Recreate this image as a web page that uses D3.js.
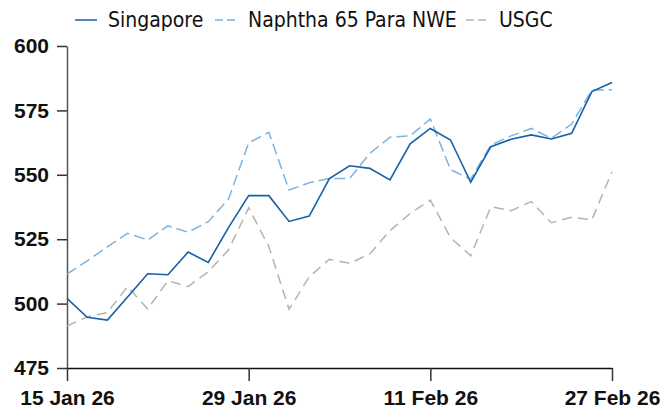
<!DOCTYPE html>
<html>
<head>
<meta charset="utf-8">
<script src="https://cdn.jsdelivr.net/npm/d3@7"></script>
<style>
  body { margin: 0; background: #fff; }
  svg { display: block; font-family: "DejaVu Sans Condensed", "DejaVu Sans", sans-serif; }
</style>
</head>
<body>
<div id="chart"></div>
<script>
// Trading days on the x axis (category positions)
var dates = ["15 Jan", "16 Jan", "20 Jan", "21 Jan", "22 Jan", "23 Jan", "26 Jan", "27 Jan", "28 Jan",
  "29 Jan", "30 Jan", "2 Feb", "3 Feb", "4 Feb", "5 Feb", "6 Feb", "9 Feb", "10 Feb", "11 Feb",
  "12 Feb", "13 Feb", "17 Feb", "18 Feb", "19 Feb", "20 Feb", "24 Feb", "26 Feb", "27 Feb"];

var tickDates = ["15 Jan", "29 Jan", "11 Feb", "27 Feb"];
var tickLabels = ["15 Jan 26", "29 Jan 26", "11 Feb 26", "27 Feb 26"];
var yTicks = [475, 500, 525, 550, 575, 600];

var singapore = [502, 494.7, 493.6, 502.6, 511.6, 511.2, 520, 516, 529.5, 541.9, 541.9, 531.9, 534, 548.5,
  553.5, 552.5, 548, 562, 568, 563.5, 547.1, 560.9, 563.8, 565.5, 563.9, 566.1, 582.3, 585.8];
var nwe = [511.4, 516.6, 522, 527.3, 524.7, 530.2, 527.7, 531.8, 540.6, 562.4, 566.5, 544.1, 546.9, 548.6,
  548.5, 558.3, 564.6, 565.1, 571.7, 552, 548.3, 561.6, 565.1, 568, 564.2, 569.7, 582.9, 583];
var usgc = [491.3, 494.9, 496.5, 506.6, 497.9, 508.9, 506.6, 512.4, 520.8, 537.2, 522.1, 497.8, 510.4, 517.2,
  515.6, 519.3, 528.3, 535, 540.2, 525.6, 518.6, 537.6, 536.1, 539.6, 531.4, 533.5, 532.5, 551.2];

var seriesNames = ["Singapore", "Naphtha 65 Para NWE", "USGC"];

var width = 662, height = 408;
var margin = { top: 46, right: 50, bottom: 40, left: 67 };

var series = [
  { name: seriesNames[0], values: singapore, color: "#1660a8", dash: null, width: 1.6 },
  { name: seriesNames[1], values: nwe, color: "#7cb3e0", dash: "11,5", width: 1.5 },
  { name: seriesNames[2], values: usgc, color: "#b3b3b3", dash: "10,6", width: 1.5 }
];

var svg = d3.select("#chart")
  .append("svg")
  .attr("width", width)
  .attr("height", height);

// Scales
var x = d3.scalePoint()
  .domain(dates)
  .range([margin.left, width - margin.right]);

var y = d3.scaleLinear()
  .domain([475, 600])
  .range([height - margin.bottom, margin.top]);

// Y axis
var yAxis = svg.append("g")
  .attr("transform", "translate(" + margin.left + ",0)")
  .call(d3.axisLeft(y).tickValues(yTicks).tickSize(10).tickSizeOuter(0).tickPadding(8));
yAxis.select(".domain").attr("stroke", "#555").attr("stroke-width", 1.5);
yAxis.selectAll(".tick line").attr("stroke", "#333").attr("stroke-width", 1.5);
yAxis.selectAll("text")
  .attr("fill", "#111")
  .style("font-size", "21px")
  .style("font-weight", "bold");

// X axis
var xAxis = svg.append("g")
  .attr("transform", "translate(0," + (height - margin.bottom) + ")")
  .call(d3.axisBottom(x).tickValues(tickDates).tickSize(13).tickSizeOuter(0).tickPadding(9)
    .tickFormat(function(d) { return tickLabels[tickDates.indexOf(d)]; }));
xAxis.select(".domain").attr("stroke", "#111").attr("stroke-width", 1.5);
xAxis.selectAll(".tick line").attr("stroke", "#333").attr("stroke-width", 1.5);
xAxis.selectAll("text")
  .attr("fill", "#111")
  .style("font-size", "21px")
  .style("font-weight", "bold");

// Lines
var line = d3.line()
  .x(function(d, i) { return x(dates[i]); })
  .y(function(d) { return y(d); });

svg.append("g")
  .selectAll("path")
  .data(series.slice().reverse())
  .enter()
  .append("path")
  .attr("d", function(d) { return line(d.values); })
  .attr("fill", "none")
  .attr("stroke", function(d) { return d.color; })
  .attr("stroke-width", function(d) { return d.width; })
  .attr("stroke-dasharray", function(d) { return d.dash; });

// Legend
var legendX = [75, 215, 466];
var legend = svg.append("g")
  .selectAll("g")
  .data(series)
  .enter()
  .append("g")
  .attr("transform", function(d, i) { return "translate(" + legendX[i] + ",20)"; });

legend.append("line")
  .attr("x1", 0).attr("x2", 22)
  .attr("y1", 0).attr("y2", 0)
  .attr("stroke", function(d) { return d.color; })
  .attr("stroke-width", 1.5)
  .attr("stroke-dasharray", function(d) { return d.dash ? "8,4" : null; });

legend.append("text")
  .attr("x", 33)
  .attr("y", 7)
  .attr("fill", "#111")
  .style("font-size", "21px")
  .text(function(d) { return d.name; });
</script>
</body>
</html>
